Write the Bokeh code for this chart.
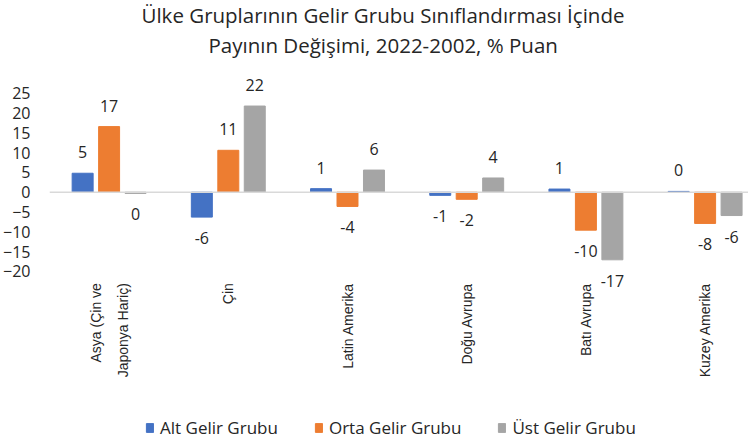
import numpy as np
from bokeh.plotting import figure
from bokeh.models import (ColumnDataSource, Range1d, FixedTicker, Span, Legend,
                          LegendItem, Title)
from bokeh.transform import dodge
from bokeh.core.properties import value
from bokeh.embed import file_html
from bokeh.resources import INLINE

# ---------------- data ----------------
title_lines = ["Ülke Gruplarının Gelir Grubu Sınıflandırması İçinde",
               "Payının Değişimi, 2022-2002, % Puan"]
categories = ["Asya (Çin ve\nJaponya Hariç)", "Çin", "Latin Amerika",
              "Doğu Avrupa", "Batı Avrupa", "Kuzey Amerika"]
series_names = ["Alt Gelir Grubu", "Orta Gelir Grubu", "Üst Gelir Grubu"]
alt = [4.8, -6.3, 0.9, -0.8, 0.8, 0.2]
orta = [16.6, 10.6, -3.6, -1.8, -9.6, -7.9]
ust = [-0.3, 21.8, 5.6, 3.6, -17.1, -5.9]
y_ticks = [-20, -15, -10, -5, 0, 5, 10, 15, 20, 25]

colors = ["#4472C4", "#ED7D31", "#A5A5A5"]
FONT = "Open Sans"
TXT = "#262626"
CAT_LABEL_Y = -23.0   # where the category names hang from (below the -20 tick)

xpos = np.arange(len(categories)) + 0.5

p = figure(frame_width=699, frame_height=372, output_backend="svg",
           toolbar_location=None,
           x_range=Range1d(0, 5.864), y_range=Range1d(-62.56, 31.55),
           min_border_left=40, min_border_right=0, min_border_top=58,
           min_border_bottom=0)
p.outline_line_color = None
p.xgrid.visible = False
p.ygrid.visible = False
p.xaxis.visible = False

# titles (first added sits closest to the frame)
p.add_layout(Title(text=title_lines[1], align="left", offset=159,
                   text_font=FONT, text_font_size="20.5px",
                   text_font_style="normal", text_color=TXT,
                   text_line_height=0.85, standoff=18), "above")
p.add_layout(Title(text=title_lines[0], align="left", offset=92,
                   text_font=FONT, text_font_size="20.5px",
                   text_font_style="normal", text_color=TXT,
                   text_line_height=0.85, standoff=-19), "above")
# small blank strip above the title
p.add_layout(Title(text=" ", align="left", text_font=FONT,
                   text_font_size="4.5px", standoff=0), "above")

p.add_layout(Span(location=0, dimension="width", line_color="#D9D9D9",
                  line_width=1.5))

offsets = [-0.222, 0.0, 0.222]
items = []
for name, vals, col, off in zip(series_names, [alt, orta, ust], colors, offsets):
    src = ColumnDataSource(dict(
        x=xpos, v=vals,
        lbl=[str(int(round(v))) for v in vals],
        yoff=[-21 if v >= 0 else 21 for v in vals]))
    r = p.vbar(x=dodge("x", off), top="v", bottom=0, width=0.176, source=src,
               fill_color=col, line_color=col)
    p.text(x=dodge("x", off), y="v", text="lbl", y_offset="yoff", source=src,
           text_align="center", text_baseline="middle",
           text_font=value(FONT), text_font_size="16px", text_color=TXT)
    items.append(LegendItem(label=name, renderers=[r]))

# category names (vertical, hanging below the plotted range)
cat_src = ColumnDataSource(dict(x=xpos, y=[CAT_LABEL_Y] * len(categories),
                                t=categories))
p.text(x="x", y="y", text="t", source=cat_src, angle=np.pi / 2,
       text_align="right", text_baseline="middle", text_line_height=1.7,
       text_font=value("Liberation Sans"), text_font_size="14px",
       text_color=TXT)

# y axis
p.yaxis.ticker = FixedTicker(ticks=y_ticks)
p.yaxis.axis_line_color = None
p.yaxis.major_tick_line_color = None
p.yaxis.minor_tick_line_color = None
p.yaxis.major_label_standoff = 13
p.yaxis.major_label_text_font = FONT
p.yaxis.major_label_text_font_size = "16px"
p.yaxis.major_label_text_color = TXT

legend = Legend(items=items, orientation="horizontal", location=(96, 0),
                glyph_width=9, glyph_height=11, label_standoff=6, spacing=36,
                label_text_font=FONT, label_text_font_size="17px",
                label_text_color=TXT, border_line_color=None,
                background_fill_alpha=0, padding=0, margin=0)
p.add_layout(legend, "center")

open("out.html", "w").write(file_html(p, INLINE))
